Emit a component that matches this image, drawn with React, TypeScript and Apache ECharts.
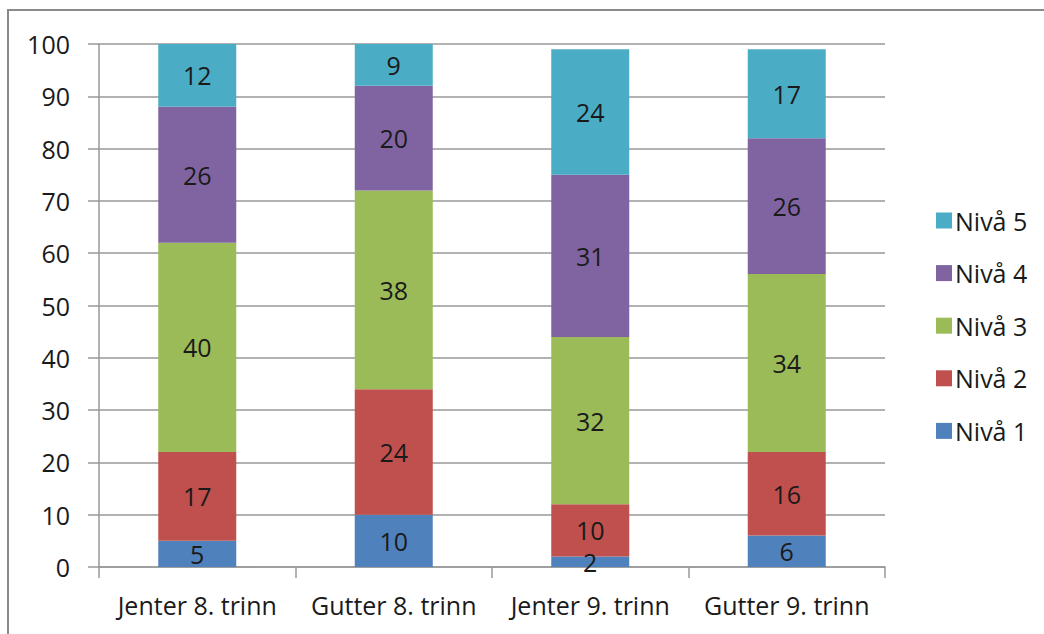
import React, { useEffect, useRef } from "react";
import * as echarts from "echarts";

const categories = ["Jenter 8. trinn", "Gutter 8. trinn", "Jenter 9. trinn", "Gutter 9. trinn"];
const nivaa1 = [5, 10, 2, 6];
const nivaa2 = [17, 24, 10, 16];
const nivaa3 = [40, 38, 32, 34];
const nivaa4 = [26, 20, 31, 26];
const nivaa5 = [12, 9, 24, 17];
const seriesNames = ["Nivå 1", "Nivå 2", "Nivå 3", "Nivå 4", "Nivå 5"];
const colors = ["#4F81BD", "#C0504D", "#9BBB59", "#8064A2", "#4BACC6"];

const FONT = "'Open Sans', Lato, sans-serif";
const FS = 25;

export default function App() {
  const ref = useRef<HTMLDivElement>(null);
  useEffect(() => {
    if (!ref.current) return;
    const chart = echarts.init(ref.current, null, { renderer: "svg" });
    const values = [nivaa1, nivaa2, nivaa3, nivaa4, nivaa5];
    chart.setOption({
      animation: false,
      backgroundColor: "#fff",
      textStyle: { fontFamily: FONT },
      graphic: [
        {
          type: "rect",
          shape: { x: 8, y: 10, width: 1100, height: 700 },
          style: { fill: "none", stroke: "#8a8a8a", lineWidth: 2 },
          silent: true,
        },
      ],
      grid: { left: 99, right: 159, top: 44, bottom: 67 },
      legend: {
        orient: "vertical",
        left: 931,
        top: 203,
        data: ["Nivå 5", "Nivå 4", "Nivå 3", "Nivå 2", "Nivå 1"],
        itemWidth: 16,
        itemHeight: 16,
        itemGap: 27.6,
        icon: "rect",
        textStyle: { fontSize: FS, color: "#1a1a1a", fontFamily: FONT, lineHeight: 25, padding: [0, 0, 0, -2] },
      },
      xAxis: {
        type: "category",
        data: categories,
        axisLine: { show: true, lineStyle: { color: "#989898", width: 1.5 } },
        axisTick: { show: true, length: 11, interval: 0, lineStyle: { color: "#989898", width: 1.5 } },
        axisLabel: { fontSize: FS, color: "#1a1a1a", margin: 25, interval: 0, fontFamily: FONT },
      },
      yAxis: {
        type: "value",
        min: 0,
        max: 100,
        interval: 10,
        axisLine: { show: true, lineStyle: { color: "#989898", width: 1.5 } },
        axisTick: { show: true, length: 11, lineStyle: { color: "#989898", width: 1.5 } },
        splitLine: { show: true, lineStyle: { color: "#989898", width: 1.5 } },
        axisLabel: { fontSize: FS, color: "#1a1a1a", margin: 29, fontFamily: FONT },
      },
      series: seriesNames.map((name, i) => ({
        name,
        type: "bar",
        stack: "total",
        data: values[i],
        barWidth: 78,
        itemStyle: { color: colors[i] },
        label: {
          show: true,
          position: "inside",
          color: "#1a1a1a",
          fontSize: FS,
          fontFamily: FONT,
        },
      })),
    });
    return () => chart.dispose();
  }, []);
  return (
    <div
      ref={ref}
      style={{ position: "fixed", left: 0, top: 0, width: 1044, height: 634 }}
    />
  );
}
